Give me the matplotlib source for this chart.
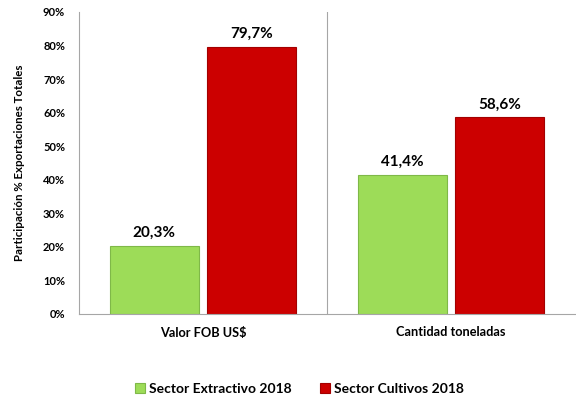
import matplotlib.pyplot as plt
import numpy as np

categorias = ['Valor FOB US$', 'Cantidad toneladas']
extractivo = [20.3, 41.4]
cultivos = [79.7, 58.6]
series = ['Sector Extractivo 2018', 'Sector Cultivos 2018']
etiquetas_y = ['0%', '10%', '20%', '30%', '40%', '50%', '60%', '70%', '80%', '90%']

plt.rcParams['font.family'] = ['Lato', 'DejaVu Sans']

fig = plt.figure(figsize=(5.76, 4.0), dpi=100)
ax = fig.add_axes([0.137, 0.215, 0.861, 0.755])

x = np.arange(len(categorias))
ancho = 0.36
b1 = ax.bar(x - 0.196, extractivo, ancho, color='#9ddc58', edgecolor='#7fb848', linewidth=0.8, label=series[0])
b2 = ax.bar(x + 0.196, cultivos, ancho, color='#cc0000', edgecolor='#a30000', linewidth=0.8, label=series[1])

for barras, vals in ((b1, extractivo), (b2, cultivos)):
    for b, v in zip(barras, vals):
        ax.text(b.get_x() + b.get_width() / 2, v + 1.8, f'{v:.1f}%'.replace('.', ','),
                ha='center', va='bottom', fontsize=11, fontweight='bold')

ax.set_xlim(-0.5, 1.5)
ax.set_ylim(0, 90)
ax.set_yticks(np.arange(0, 91, 10))
ax.set_yticklabels(etiquetas_y, fontsize=8, fontweight='bold')
ax.set_xticks(x)
ax.set_xticklabels(categorias, fontsize=9.2, fontweight='bold')
ax.tick_params(axis='x', length=0, pad=9)
ax.tick_params(axis='y', length=0, pad=10)
ax.axvline(0.5, color='#a6a6a6', linewidth=0.8)

for lado in ('top', 'right'):
    ax.spines[lado].set_visible(False)
for lado in ('left', 'bottom'):
    ax.spines[lado].set_color('#a6a6a6')
    ax.spines[lado].set_linewidth(0.8)

ax.set_ylabel('Participación % Exportaciones Totales', fontsize=8.3, fontweight='bold', labelpad=13)

fig.legend(loc='center', bbox_to_anchor=(0.52, 0.028), ncol=2, frameon=False,
           prop={'size': 10, 'weight': 'bold'}, handlelength=0.7, handleheight=0.7,
           handletextpad=0.35, columnspacing=2.0)

fig.savefig('out.png', dpi=100)
